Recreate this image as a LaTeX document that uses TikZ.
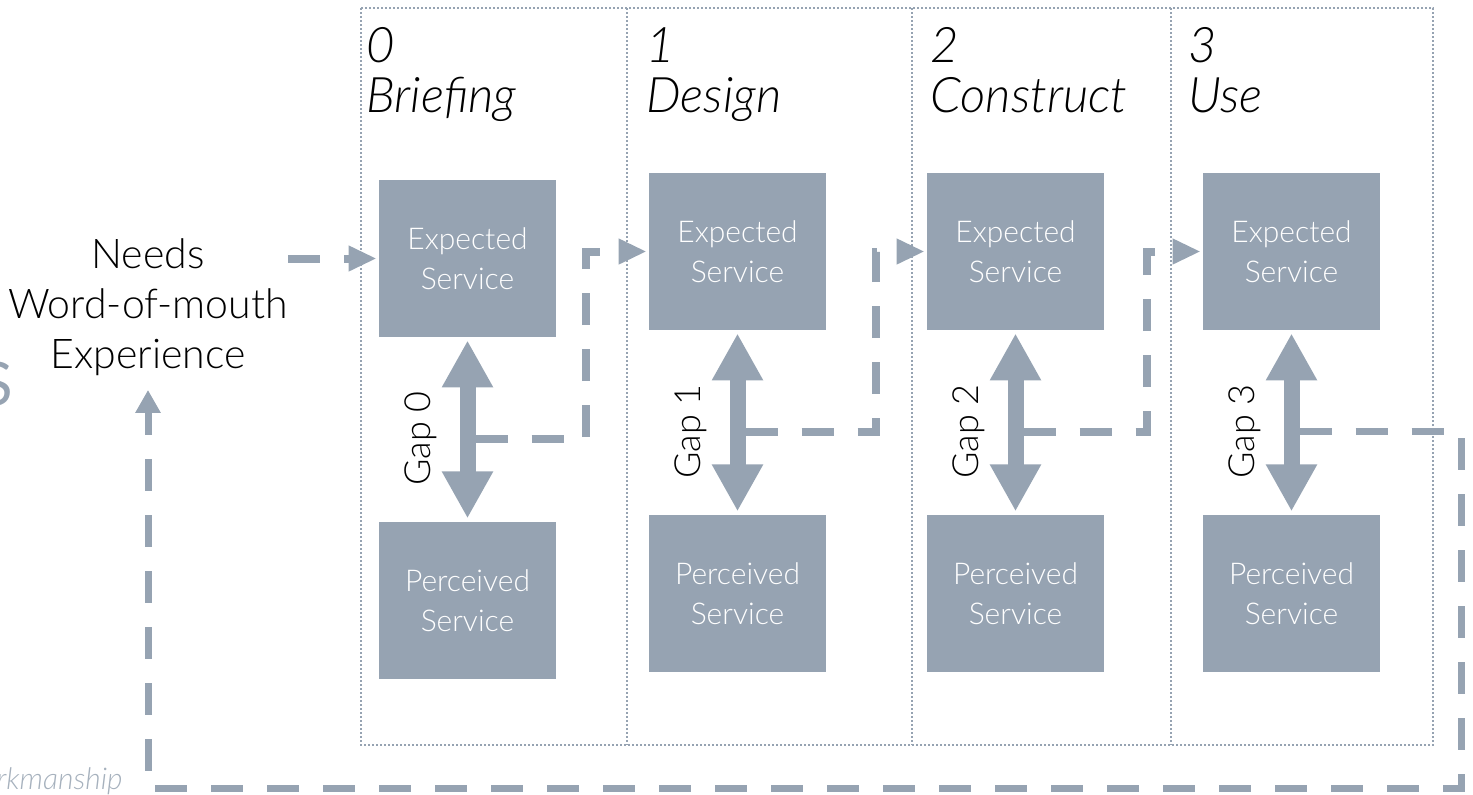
\documentclass[tikz,border=0pt]{standalone}
\usepackage{fontspec}
\IfFontExistsTF{Lato Light}
  {\setmainfont{Lato Light}\newfontfamily\plainfont{Lato}}
  {\setmainfont{Open Sans}\newfontfamily\plainfont{Open Sans}}
\usepackage{tikz}
\usetikzlibrary{arrows.meta,positioning,calc}
\definecolor{slate}{RGB}{150,163,178}

\begin{document}
\begin{tikzpicture}
        [x = 0.5pt, y = -0.5pt, node distance = 92pt, inner sep = 0pt,
        svc/.style   = {rectangle, fill=slate, text=white, minimum width=88.5pt, minimum height=78.5pt,
                        align=center, font=\fontsize{15}{20}\selectfont},
        phase/.style = {draw=slate, line width=0.8pt, dash pattern=on 1pt off 1pt},
        head/.style  = {anchor=north west, align=left, font=\fontsize{24.5}{25}\selectfont\itshape},
        gap/.style   = {draw=slate, line width=8pt, shorten <=1.5pt, shorten >=1.5pt,
                        {Triangle[width=24pt,length=23.5pt]}-{Triangle[width=24pt,length=23.5pt]}},
        gaptxt/.style = {rotate=90, anchor=south, font=\fontsize{18}{18}\selectfont},
        flow/.style  = {draw=slate, line width=4pt, dash pattern=on 16pt off 12pt, shorten >=1pt,
                        -{Triangle[width=12pt,length=14pt]}},
        back/.style  = {draw=slate, line width=3.5pt, dash pattern=on 16pt off 12pt, shorten >=7pt,
                        -{Triangle[width=12pt,length=11.5pt]}}]

        \useasboundingbox (0,0) rectangle (1473,794);

        %% phase columns
        \draw[phase] (361,8) rectangle (1433,745);
        \draw[phase] (627,8) -- (627,745);
        \draw[phase] (912,8) -- (912,745);
        \draw[phase] (1171,8) -- (1171,745);

        \node[head] (h0) at (366,27)  {0\\Briefing};
        \node[head] (h1) at (646,27)  {1\\Design};
        \node[head] (h2) at (930,27)  {2\\Construct};
        \node[head] (h3) at (1188,27) {3\\Use};

        %% place elements on canvas
        \node[align=center, font=\fontsize{20.5}{25}\selectfont] (needs) at (148,307)
                {Needs\\Word-of-mouth\\Experience};
        \node[anchor=east, text=slate, font=\plainfont\fontsize{30}{30}\selectfont] (initial) at (13,384) {S};
        \node[anchor=base east, text=slate!85, font=\fontsize{15}{15}\selectfont\itshape] (craft) at (123,789)
                {Workmanship};

        \node[svc] (exp0) at (467.5,258.5)  {Expected\\Service};
        \node[svc] (per0) [below = of exp0] {Perceived\\Service};
        \node[svc] (exp1) at (737.5,251.5)  {Expected\\Service};
        \node[svc] (per1) [below = of exp1] {Perceived\\Service};
        \node[svc] (exp2) at (1015.5,251.5) {Expected\\Service};
        \node[svc] (per2) [below = of exp2] {Perceived\\Service};
        \node[svc] (exp3) at (1291.5,251.5) {Expected\\Service};
        \node[svc] (per3) [below = of exp3] {Perceived\\Service};

        %% gaps between expected and perceived
        \draw[gap] (exp0) -- (per0);
        \draw[gap] (exp1) -- (per1);
        \draw[gap] (exp2) -- (per2);
        \draw[gap] (exp3) -- (per3);

        \coordinate (g0) at ($(exp0.south)!.55!(per0.north)$);
        \coordinate (g1) at ($(exp1.south)!.55!(per1.north)$);
        \coordinate (g2) at ($(exp2.south)!.55!(per2.north)$);
        \coordinate (g3) at ($(exp3.south)!.55!(per3.north)$);

        \node[gaptxt] (gt0) at ($(g0)+(-30,0)$) {Gap 0};
        \node[gaptxt] (gt1) at ($(g1)+(-30,0)$) {Gap 1};
        \node[gaptxt] (gt2) at ($(g2)+(-30,0)$) {Gap 2};
        \node[gaptxt] (gt3) at ($(g3)+(-30,0)$) {Gap 3};

        %% connect elements
        \coordinate (t0) at (586,0);
        \coordinate (t1) at (876,0);
        \coordinate (t2) at (1147,0);
        \coordinate (t3) at (1461,788);

        \draw[flow] (exp0.west -| needs.east) -- (exp0.west);
        \draw[flow] ([xshift=4pt]g0) -- (g0 -| t0) |- (exp1.west);
        \draw[flow] ([xshift=4pt]g1) -- (g1 -| t1) |- (exp2.west);
        \draw[flow] ([xshift=4pt]g2) -- (g2 -| t2) |- (exp3.west);
        \draw[back] ([xshift=4pt]g3) -- (g3 -| t3) -- (t3) -| (needs.south);
\end{tikzpicture}
\end{document}
